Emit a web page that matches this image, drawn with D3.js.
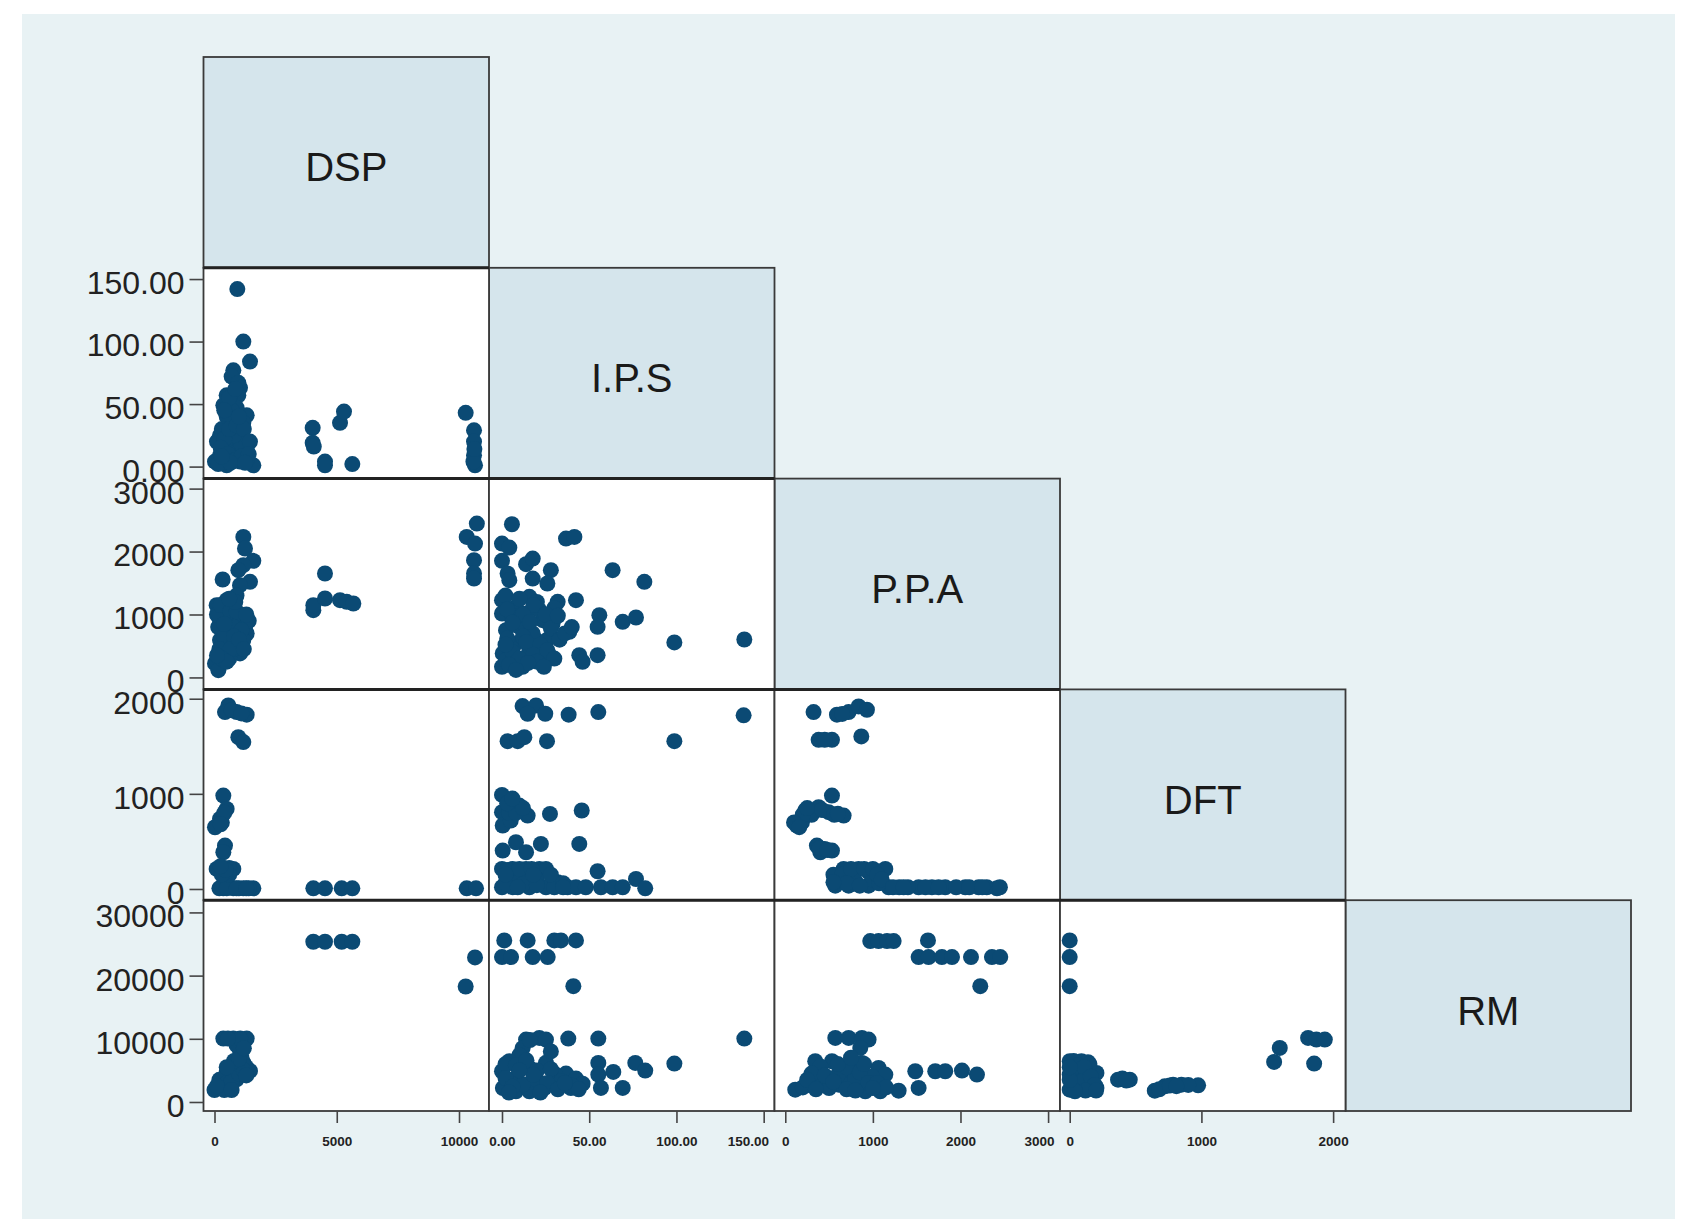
<!doctype html>
<html>
<head>
<meta charset="utf-8">
<script src="https://d3js.org/d3.v7.min.js"></script>
<style>
  body { margin: 0; background: #ffffff; }
</style>
</head>
<body>
<script>
// variables of the matrix, in diagonal order
var names = ["DSP", "I.P.S", "P.P.A", "DFT", "RM"];

// tick labels per variable
var ticksDSP = [0, 5000, 10000];
var ticksIPS = [0, 50, 100, 150];
var ticksPPA = [0, 1000, 2000, 3000];
var ticksDFT = [0, 1000, 2000];
var ticksRM  = [0, 10000, 20000, 30000];

// points, [x, y]
var ipsDsp = [[934,142],[1179,100],[1452,84],[770,77],[702,72],[975,67],[1043,63],[497,57],[975,57],[361,49],[906,47],[634,39],[1316,41],[1179,35],[497,31],[1043,28],[225,25],[1179,23],[770,17],[1316,15],[361,15],[225,9],[1179,11],[770,7],[20,4],[1043,4],[497,1],[1588,1],[634,20],[906,12],[361,3],[1316,5],[700,45],[500,40],[1100,18],[300,30],[800,25],[150,2],
  [100,20],[400,22],[600,30],[900,33],[1200,30],[1450,20],[250,15],[550,10],[850,5],[1100,8],[1400,10],[650,3],[300,8],[1000,40],[600,55],[850,62],[400,45],[1250,3],
  [4015,31],[4015,19],[4060,16],[4519,4],[4519,1],[5134,35],[5296,44],[5637,2],
  [10273,43],[10614,29],[10614,20],[10614,9],[10655,1],[10590,4],[10630,14]];

var ppaDsp = [[1179,2233],[1247,2048],[1588,1852],[1179,1783],[975,1704],[1452,1519],[1043,1466],[334,1556],[88,1148],[497,1228],[770,1122],[1043,910],[225,910],[1316,698],[634,698],[225,593],[1043,381],[20,222],[157,116],[497,487],[770,804],[361,381],[906,540],[1179,593],[497,1000],[300,1050],[900,1300],[1250,800],[150,800],[600,300],[400,650],[1400,900],[800,450],
  [100,1000],[250,1150],[650,1050],[900,1050],[1300,1000],[1100,750],[800,650],[400,850],[200,450],[650,450],[1000,600],[300,300],[500,250],[100,350],[1200,450],[850,1200],[600,1250],
  [4519,1651],[4042,1069],[4042,1148],[4519,1254],[5134,1228],[5406,1201],[5678,1175],
  [10730,2444],[10315,2233],[10655,2127],[10614,1862],[10614,1651],[10614,1571]];

var ppaIps = [[5.7,2434],[0,2127],[4.2,2063],[0,1852],[3.2,1651],[4.2,1545],[13.8,1799],[17.6,1889],[17.6,1571],[28,1704],[26,1492],[36.7,2206],[41.5,2233],[63.4,1704],[81.6,1519],[42.4,1228],[31.9,1201],[15.7,1280],[0,1228],[0,1016],[6.1,963],[13.8,1016],[29,857],[38.6,725],[55.8,989],[54.8,804],[69.2,884],[76.8,952],[98.8,556],[138.9,603],[44.3,354],[46.2,249],[54.8,354],[0,169],[0.4,381],[8,540],[19.5,593],[27.1,354],[2.3,751],[9.9,804],[17.6,698],[23.3,910],[2.3,275],[11.8,169],[15.7,434],[8,1122],[21.4,1069],[26,600],[5,480],[12,650],[20,1200],[30,1100],[24,450],
  [2,1300],[10,1250],[18,1150],[3,1080],[12,1000],[25,1000],[6,870],[16,880],[28,780],[3,620],[14,560],[22,520],[33,600],[6,400],[18,360],[26,430],[2,520],[10,300],[20,250],[30,300],[4,200],[15,230],[24,170],[8,120],[36,700],[40,800],[32,980]];

var dftDsp = [[566,1930],[906,1860],[1316,1832],[429,1860],[700,1880],[1100,1845],[975,1596],[1179,1544],[361,982],[497,842],[225,737],[20,649],[300,700],[429,456],[361,386],[88,211],[770,211],[500,150],[497,105],[361,7],[770,7],[1179,7],[1588,7],[200,7],[1000,7],[1400,7],[600,220],
  [500,7],[900,7],[1300,7],[600,150],[300,150],[450,200],[250,240],[400,800],[250,680],
  [4042,7],[4519,7],[5202,7],[5637,7],[10315,7],[10696,7]];

var dftIps = [[11.8,1923],[19.5,1930],[14.7,1842],[24.8,1842],[38.2,1832],[55.2,1860],[138.5,1825],[3.2,1554],[9,1554],[12.8,1596],[25.8,1554],[98.8,1554],[0,989],[0,807],[9.9,877],[14.7,772],[0.4,667],[5,720],[27.5,789],[45.7,825],[0.4,404],[8,491],[13.8,386],[22.3,474],[44.3,474],[0,211],[6.1,211],[13.8,211],[21.4,211],[25.2,211],[54.8,186],[0,18],[6.1,18],[15.7,18],[25.2,18],[31.9,70],[37.6,18],[42.4,18],[56.7,18],[63.4,18],[69.2,18],[76.8,105],[82.1,7],[3,100],[10,90],[20,100],[30,18],
  [3,200],[10,211],[17,211],[28,150],[35,60],[2,60],[12,50],[20,40],[35,18],[48,18],[9,18],[2,150],[18,150],[4,800],[8,800],[3,900],[12,850],[6,950]];

var dftPpa = [[323,1860],[590,1832],[723,1860],[837,1919],[932,1884],[650,1840],[381,1568],[533,1568],[450,1568],[868,1604],[533,982],[228,825],[381,860],[495,807],[666,772],[133,667],[190,700],[300,780],[361,456],[400,386],[533,404],[450,420],[666,211],[837,211],[1142,211],[750,150],[950,180],[571,35],[723,35],[951,35],[1180,18],[1300,18],[1522,18],[1674,18],[1826,18],[2055,18],[2207,18],[2416,7],[610,100],[800,80],[990,100],[1070,60],[1400,18],[1950,18],[2300,18],
  [550,150],[650,150],[750,211],[900,211],[1000,211],[1050,150],[700,60],[850,35],[1100,100],[550,70],[1230,18],[1350,18],[1600,18],[1750,18],[2100,18],[2250,18],[2450,18],
  [200,780],[250,850],[420,830],[560,780],[600,790],[100,700],[160,650],[390,430],[480,410]];

var rmDsp = [[4042,25357],[4519,25357],[5202,25357],[5637,25357],[10655,22874],[10273,18278],
  [361,10037],[770,10037],[1316,10037],[1043,8082],[770,5705],[1452,4913],[497,4649],[225,3064],[0,1902],[634,2007],[906,3592],[1179,6234],[1100,7000],[600,4000],[300,2500],[1300,5500],[900,9000],[400,1900],
  [200,3500],[500,3000],[700,3200],[1000,4500],[1200,5000],[800,6500],[1000,6800],[1300,4200],[500,5500],[100,2500],[700,1900],[1050,10037],[550,10037],[1200,8500]];

var rmIps = [[1.3,25568],[14.7,25568],[30,25568],[33.8,25568],[42.4,25568],[0,22927],[5.2,22927],[17.6,22927],[26.2,22927],[40.9,18330],[13.8,9878],[21.4,10143],[25.2,9878],[38,10037],[55.2,10037],[138.9,10037],[11.8,8500],[10,7400],[0,4860],[4.2,6445],[8,3800],[15.7,5400],[25.2,6200],[36.7,4500],[42.4,3700],[46.2,2900],[0.5,2200],[8,1700],[15.7,1700],[24.3,2200],[39.5,2200],[55.2,6181],[55.2,4332],[56.7,2219],[63.8,4754],[69.2,2219],[76.4,6181],[82.1,4966],[98.8,6075],[5,3000],[20,3500],[30,4500],
  [2,6000],[8,5800],[14,6600],[20,5000],[28,5200],[34,3300],[40,2600],[44,2000],[2,3800],[12,2800],[18,4300],[26,3000],[32,2000],[6,2400],[22,1500],[10,5000],[36,3000],[16,9800],[28,8000],[4,1500]];

var rmPpa = [[970,25462],[1065,25462],[1161,25462],[1237,25462],[1629,25568],[1522,22927],[1636,22927],[1788,22927],[1903,22927],[2120,22927],[2359,22927],[2454,22927],[2226,18330],[571,10143],[723,10143],[875,10143],[951,9878],[856,8558],[342,6445],[533,6445],[875,6181],[1065,5388],[1142,4332],[1484,4860],[1712,4860],[1826,4860],[2017,4966],[2188,4332],[114,1955],[266,2747],[419,3539],[609,2747],[723,3539],[837,2747],[913,1690],[1084,1690],[1294,1796],[1522,2219],[990,4000],[760,4860],[400,5600],[650,5000],[200,2300],[500,2200],[800,3800],
  [300,4500],[450,4200],[600,4300],[700,5500],[850,4700],[950,3000],[1050,3000],[1150,2300],[250,3500],[350,2000],[550,3200],[700,2000],[800,1800],[1000,2200],[900,6000],[600,6000],[750,7000]];

var rmDft = [[0,25568],[0,22927],[0,18330],[0,6445],[89,6445],[139,6300],[0,4332],[63,4860],[139,3800],[203,4596],[0,1955],[63,2747],[203,2219],[100,5400],[50,3500],[367,3539],[456,3539],[646,1796],[722,2483],[785,2747],[848,2747],[975,2641],[1552,6339],[1595,8558],[1810,10143],[1873,9878],[1937,9878],[1856,6075],
  [30,6500],[150,6000],[60,5800],[110,5500],[30,3000],[90,3200],[160,4000],[190,2700],[120,1800],[40,1700],[200,1800],[0,3500],[0,5500],[400,3700],[430,3400],[680,2000],[760,2600],[900,2700],[810,2500]];

// ---- layout / scale settings ----
var W = 1689, H = 1227;
var gridLeft = 203.5, gridTop = 57, cellW = 285.5, cellH = 210.8;
var n = names.length;

var allTicks = [ticksDSP, ticksIPS, ticksPPA, ticksDFT, ticksRM];
var tickFmt = [d3.format("d"), d3.format(".2f"), d3.format("d"), d3.format("d"), d3.format("d")];
// value range covered by one cell, horizontally and vertically
var xExtent = [[-450, 11227], [-7.45, 156.2], [-123, 3136], [-73.7, 2094], [0, 1]];
var yExtent = [[0, 1], [-9.6, 159], [-190, 3159], [-118, 2098], [-1426, 31933]];

var panels = [
  {row: 1, col: 0, pts: ipsDsp},
  {row: 2, col: 0, pts: ppaDsp},
  {row: 2, col: 1, pts: ppaIps},
  {row: 3, col: 0, pts: dftDsp},
  {row: 3, col: 1, pts: dftIps},
  {row: 3, col: 2, pts: dftPpa},
  {row: 4, col: 0, pts: rmDsp},
  {row: 4, col: 1, pts: rmIps},
  {row: 4, col: 2, pts: rmPpa},
  {row: 4, col: 3, pts: rmDft}
];

var xs = names.map(function(d, i) {
  return d3.scaleLinear().domain(xExtent[i]).range([gridLeft + i * cellW, gridLeft + (i + 1) * cellW]);
});
var ys = names.map(function(d, i) {
  return d3.scaleLinear().domain(yExtent[i]).range([gridTop + (i + 1) * cellH, gridTop + i * cellH]);
});

var svg = d3.select("body").append("svg").attr("width", W).attr("height", H);
svg.append("rect").attr("width", W).attr("height", H).attr("fill", "#ffffff");
svg.append("rect").attr("x", 22).attr("y", 14).attr("width", 1653).attr("height", 1205).attr("fill", "#e8f2f4");

var borderColor = "#3a3a3a";

// diagonal name cells
names.forEach(function(name, i) {
  var x0 = gridLeft + i * cellW, y0 = gridTop + i * cellH;
  svg.append("rect").attr("x", x0).attr("y", y0).attr("width", cellW).attr("height", cellH)
    .attr("fill", "#d5e5ec").attr("stroke", borderColor).attr("stroke-width", 1.8);
  svg.append("text").text(name)
    .attr("x", x0 + cellW / 2).attr("y", y0 + cellH / 2 + 19)
    .attr("text-anchor", "middle")
    .attr("font-family", "Liberation Sans, Arial, sans-serif")
    .attr("font-size", 40).attr("fill", "#1a1a1a");
});

// scatter cells
panels.forEach(function(p) {
  var x0 = gridLeft + p.col * cellW, y0 = gridTop + p.row * cellH;
  svg.append("rect").attr("x", x0).attr("y", y0).attr("width", cellW).attr("height", cellH)
    .attr("fill", "#ffffff");
  svg.append("g").selectAll("circle").data(p.pts).join("circle")
    .attr("cx", function(d) { return xs[p.col](d[0]); })
    .attr("cy", function(d) { return ys[p.row](d[1]); })
    .attr("r", 8)
    .attr("fill", "#0b4a74");
  svg.append("rect").attr("x", x0).attr("y", y0).attr("width", cellW).attr("height", cellH)
    .attr("fill", "none").attr("stroke", borderColor).attr("stroke-width", 1.8);
});

// thicker top edge of each scatter row
for (var r = 1; r < n; r++) {
  svg.append("line")
    .attr("x1", gridLeft).attr("x2", gridLeft + r * cellW)
    .attr("y1", gridTop + r * cellH).attr("y2", gridTop + r * cellH)
    .attr("stroke", "#222").attr("stroke-width", 3);
}

function styleAxis(g, size, weight) {
  g.select(".domain").remove();
  g.selectAll("line").attr("stroke", "#444").attr("stroke-width", 1.6);
  g.selectAll("text")
    .attr("font-family", "Liberation Sans, Arial, sans-serif")
    .attr("font-size", size).attr("font-weight", weight).attr("fill", "#222");
}

// left axes
for (var r = 1; r < n; r++) {
  var gy = svg.append("g").attr("transform", "translate(" + gridLeft + ",0)")
    .call(d3.axisLeft(ys[r]).tickValues(allTicks[r]).tickFormat(tickFmt[r]).tickSize(14).tickPadding(5));
  styleAxis(gy, 32, "normal");
  gy.selectAll("text").attr("dy", "0.45em");
}

// bottom axes
var bottom = gridTop + n * cellH;
for (var c = 0; c < n - 1; c++) {
  var gx = svg.append("g").attr("transform", "translate(0," + bottom + ")")
    .call(d3.axisBottom(xs[c]).tickValues(allTicks[c]).tickFormat(tickFmt[c]).tickSize(12).tickPadding(13));
  styleAxis(gx, 13.5, "bold");
  // keep the last label clear of the next column's first label
  if (c > 0 && c < n - 2) {
    var colRight = gridLeft + (c + 1) * cellW;
    gx.selectAll(".tick").filter(function(d, i, nodes) { return i === nodes.length - 1; })
      .select("text")
      .attr("text-anchor", "end")
      .attr("x", function(d) { return colRight - 6 - xs[c](d); });
  }
}
</script>
</body>
</html>
